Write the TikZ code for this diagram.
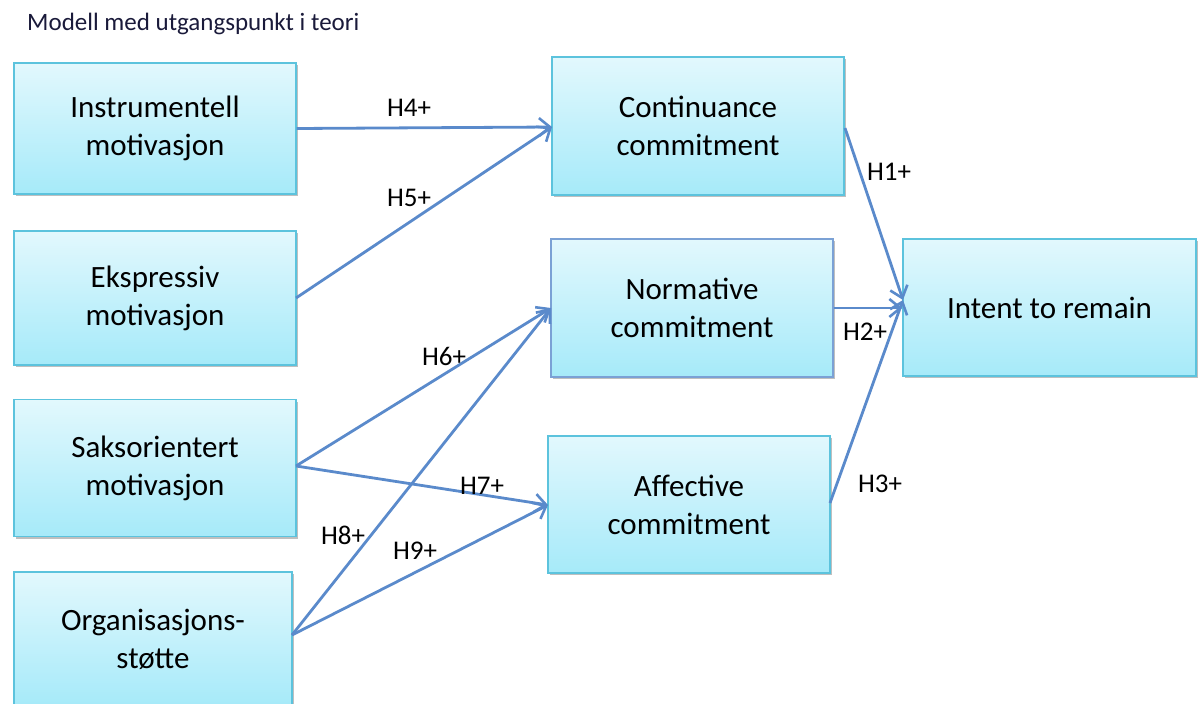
\documentclass[tikz,border=0pt]{standalone}
\usepackage{fontspec}
\setmainfont{Carlito}
\usetikzlibrary{arrows.meta,shadows}
\definecolor{boxtop}{HTML}{E2F8FD}
\definecolor{boxbot}{HTML}{A6EAF9}
\definecolor{boxline}{HTML}{5CC3DD}
\definecolor{arrowblue}{HTML}{5A8ACB}
\definecolor{titleink}{HTML}{1A1A3A}
\tikzset{
  concept/.style={draw=boxline, line width=1.2pt, top color=boxtop, bottom color=boxbot,
    align=center, font=\fontsize{31}{38}\selectfont, inner sep=0pt,
    drop shadow={shadow xshift=1.5pt, shadow yshift=-2pt, opacity=0.25, fill=black}},
  link/.style={draw=arrowblue, line width=2.8pt, -{Straight Barb[length=11pt,width=18pt,line width=2.6pt]}},
  hyp/.style={font=\fontsize{27}{30}\selectfont, inner sep=0pt}
}
\begin{document}
\begin{tikzpicture}[x=1pt,y=-1pt]
\useasboundingbox (0,0) rectangle (1202,704);
\node[anchor=west, font=\fontsize{25}{28}\selectfont, text=titleink, inner sep=0pt] (title) at (27,24) {Modell med utgangspunkt i teori};

% left column
\node[concept, minimum width=282pt, minimum height=131pt] (ins) at (155,128.5) {Instrumentell\\motivasjon};
\node[concept, minimum width=282pt, minimum height=134pt] (eks) at (155,298) {Ekspressiv\\motivasjon};
\node[concept, minimum width=282pt, minimum height=137pt] (sak) at (155,468) {Saksorientert\\motivasjon};
\node[concept, minimum width=278pt, minimum height=134pt] (org) at (153,639) {Organisasjons-\\støtte};

% middle column
\node[concept, minimum width=292pt, minimum height=138pt] (con) at (698,126) {Continuance\\commitment};
\node[concept, draw=arrowblue!80, minimum width=282pt, minimum height=138pt] (nor) at (692,308) {Normative\\commitment};
\node[concept, minimum width=282pt, minimum height=137pt] (aff) at (689,504.5) {Affective\\commitment};

% outcome
\node[concept, minimum width=293pt, minimum height=137pt] (int) at (1049.5,307.5) {Intent to remain};

% path end points on the box edges
\coordinate (insR) at (ins.east);
\coordinate (eksR) at (296,298);
\coordinate (sakR) at (296,466);
\coordinate (orgR) at (292,635);
\coordinate (conL) at (552,127);
\coordinate (norL) at (551,308);
\coordinate (affL) at (548,505);
\coordinate (conR) at (845,128);
\coordinate (affR) at (830,503);
\coordinate (intL) at (903,300);

\draw[link] (insR) -- (conL);
\draw[link] (eksR) -- (conL);
\draw[link] (sakR) -- (norL);
\draw[link] (sakR) -- (affL);
\draw[link] (orgR) -- (norL);
\draw[link] (orgR) -- (affL);
\draw[link] (conR) -- (intL);
\draw[link] (nor.east |- norL) -- (int.west |- norL);
\draw[link] (affR) -- (intL);

% hypothesis labels
\node[hyp] (h4) at (409,108) {H4+};
\node[hyp] (h5) at (409,198) {H5+};
\node[hyp] (h6) at (444,356) {H6+};
\node[hyp] (h7) at (482,486) {H7+};
\node[hyp] (h8) at (343,535) {H8+};
\node[hyp] (h9) at (415,551) {H9+};
\node[hyp] (h1) at (889,172) {H1+};
\node[hyp] (h2) at (865,332) {H2+};
\node[hyp] (h3) at (880,484) {H3+};
\end{tikzpicture}
\end{document}
